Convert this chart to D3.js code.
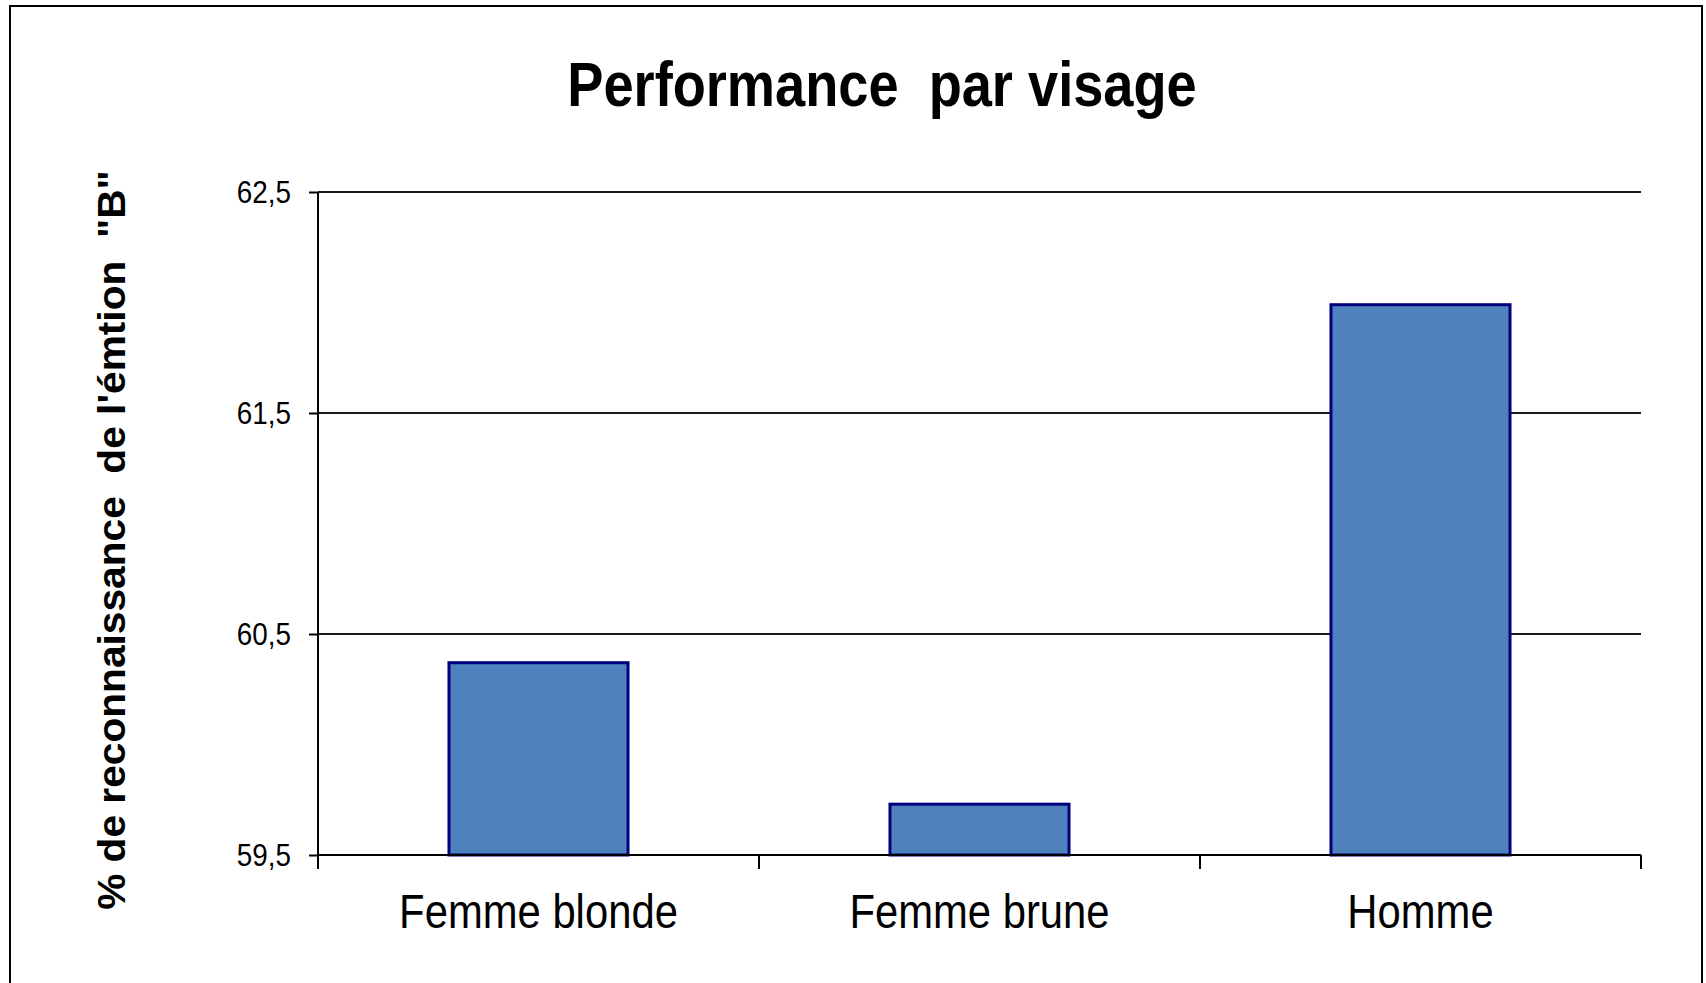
<!DOCTYPE html>
<html>
<head>
<meta charset="utf-8">
<script src="https://cdn.jsdelivr.net/npm/d3@7"></script>
<style>
  body { margin: 0; background: #fff; }
  svg { display: block; font-family: Arial, "Liberation Sans", sans-serif; }
</style>
</head>
<body>
<div id="chart-container"></div>
<script>
// Data
const categories = ['Femme blonde', 'Femme brune', 'Homme'];
const values = [60.37, 59.73, 61.99];
const yTicks = [59.5, 60.5, 61.5, 62.5];
const yDomain = [59.5, 62.5];
const title = 'Performance  par visage';
const yLabel = '% de reconnaissance  de l\'émtion  "B"';

const WIDTH = 1706, HEIGHT = 983;
const margin = { left: 318, right: 65, top: 192, bottom: 128 };
const BAR_FILL = '#4f81bd';
const BAR_STROKE = '#000080';
// The reference text is squeezed horizontally, so shrink glyph runs a bit
const SQUEEZE = 0.86;

const svg = d3.select('#chart-container').append('svg')
    .attr('width', WIDTH)
    .attr('height', HEIGHT);

svg.append('rect')
    .attr('width', WIDTH).attr('height', HEIGHT)
    .attr('fill', '#fff');

// Outer frame of the chart
svg.append('rect')
    .attr('x', 10).attr('y', 6)
    .attr('width', 1692).attr('height', 1000)
    .attr('fill', 'none')
    .attr('stroke', '#000')
    .attr('stroke-width', 2);

const x0 = margin.left, x1 = WIDTH - margin.right;
const y0 = HEIGHT - margin.bottom, y1 = margin.top;

// Bars sit centred in each category slot
const xScale = d3.scaleBand()
    .domain(categories)
    .range([x0, x1])
    .paddingInner(0.594)
    .paddingOuter(0.297);

const yScale = d3.scaleLinear()
    .domain(yDomain)
    .range([y0, y1]);

const fmt = d3.formatLocale({ decimal: ',', thousands: ' ', grouping: [3], currency: ['', ''] }).format('.1f');

function squeeze(sel, factor) {
    sel.each(function () {
        const w = this.getComputedTextLength();
        d3.select(this)
            .attr('textLength', w * factor)
            .attr('lengthAdjust', 'spacingAndGlyphs');
    });
}

// Gridlines
svg.append('g')
    .selectAll('line')
    .data(yTicks)
    .enter()
    .append('line')
        .attr('x1', x0).attr('x2', x1)
        .attr('y1', d => yScale(d)).attr('y2', d => yScale(d))
        .attr('stroke', '#1a1a1a')
        .attr('stroke-width', 2);

// Y axis
const yAxis = d3.axisLeft(yScale)
    .tickValues(yTicks)
    .tickFormat(fmt)
    .tickSize(9)
    .tickSizeOuter(0)
    .tickPadding(18);
const yAxisG = svg.append('g')
    .attr('transform', `translate(${x0},0)`)
    .call(yAxis);
yAxisG.select('.domain').remove();
yAxisG.selectAll('line').attr('stroke', '#000').attr('stroke-width', 2);
yAxisG.selectAll('text')
    .attr('font-size', 32)
    .attr('fill', '#000')
    .call(squeeze, 0.87);

// Bars
svg.append('g')
    .selectAll('.bar')
    .data(values)
    .enter()
    .append('rect')
        .attr('class', 'bar')
        .attr('x', (d, i) => xScale(categories[i]))
        .attr('width', xScale.bandwidth())
        .attr('y', d => yScale(d))
        .attr('height', d => yScale(yDomain[0]) - yScale(d))
        .attr('fill', BAR_FILL)
        .attr('stroke', BAR_STROKE)
        .attr('stroke-width', 3);

// X axis: labels from the band axis, ticks at slot boundaries
const xAxis = d3.axisBottom(xScale)
    .tickSize(0)
    .tickSizeOuter(0)
    .tickPadding(38);
const xAxisG = svg.append('g')
    .attr('transform', `translate(0,${y0})`)
    .call(xAxis);
xAxisG.select('.domain').remove();
xAxisG.selectAll('text')
    .attr('font-size', 49)
    .attr('fill', '#000')
    .call(squeeze, 0.853);

svg.append('line')
    .attr('x1', x0).attr('x2', x1)
    .attr('y1', y0).attr('y2', y0)
    .attr('stroke', '#000')
    .attr('stroke-width', 2);

svg.append('g')
    .selectAll('line')
    .data(d3.range(categories.length + 1))
    .enter()
    .append('line')
        .attr('x1', i => x0 + i * xScale.step())
        .attr('x2', i => x0 + i * xScale.step())
        .attr('y1', y0).attr('y2', y0 + 14)
        .attr('stroke', '#000')
        .attr('stroke-width', 2);

// Y axis line runs past the baseline down to the category ticks
svg.append('line')
    .attr('x1', x0).attr('x2', x0)
    .attr('y1', y1).attr('y2', y0 + 14)
    .attr('stroke', '#000')
    .attr('stroke-width', 2);

// Title
svg.append('text')
    .attr('x', 882).attr('y', 106)
    .attr('text-anchor', 'middle')
    .attr('font-size', 63)
    .attr('font-weight', 'bold')
    .attr('fill', '#000')
    .style('white-space', 'pre')
    .text(title)
    .call(squeeze, SQUEEZE);

// Y axis title
svg.append('text')
    .attr('transform', `translate(125,540) rotate(-90)`)
    .attr('text-anchor', 'middle')
    .attr('font-size', 38)
    .attr('font-weight', 'bold')
    .attr('fill', '#000')
    .style('white-space', 'pre')
    .text(yLabel)
    .call(squeeze, 1.07);
</script>
</body>
</html>
